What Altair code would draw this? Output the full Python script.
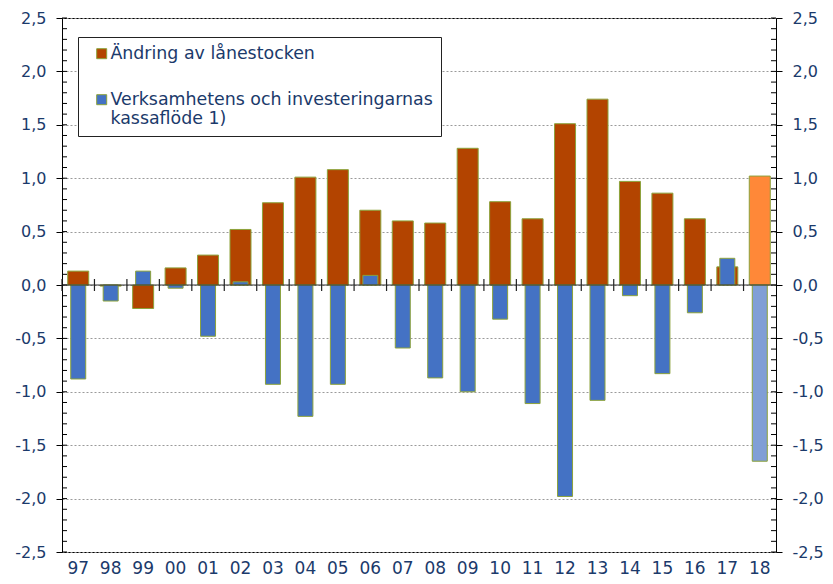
import altair as alt
import pandas as pd

years = ["97", "98", "99", "00", "01", "02", "03", "04", "05", "06", "07",
         "08", "09", "10", "11", "12", "13", "14", "15", "16", "17", "18"]
loan_change = [0.13, -0.01, -0.22, 0.16, 0.28, 0.52, 0.77, 1.01, 1.08, 0.70, 0.60,
               0.58, 1.28, 0.78, 0.62, 1.51, 1.74, 0.97, 0.86, 0.62, 0.17, 1.02]
cash_flow = [-0.88, -0.15, 0.13, -0.03, -0.48, 0.03, -0.93, -1.23, -0.93, 0.09, -0.59,
             -0.87, -1.00, -0.32, -1.11, -1.98, -1.08, -0.10, -0.83, -0.26, 0.25, -1.65]
series_names = ["Ändring av lånestocken", "Verksamhetens och investeringarnas kassaflöde 1)"]
y_major = [-2.5, -2.0, -1.5, -1.0, -0.5, 0.0, 0.5, 1.0, 1.5, 2.0, 2.5]
y_minor = [round(-2.5 + 0.1 * i, 1) for i in range(51)]

ORANGE, ORANGE_LIGHT = "#B34400", "#FF8838"
BLUE, BLUE_LIGHT = "#4472C4", "#809FD6"
OLIVE = "#8CA23B"
NAVY = "#1B3A6B"
FONT = "DejaVu Sans"
W, H = 714, 534
STEP = W / len(years)
TICK_HALF = 0.056  # half-length of the category separator ticks, in axis units

df_loan = pd.DataFrame({"year": years, "value": loan_change, "series": series_names[0]})
df_cash = pd.DataFrame({"year": years, "value": cash_flow, "series": series_names[1]})
df_minor = pd.DataFrame({"v": y_minor})
df_zero = pd.DataFrame({"v": [0.0]})
df_cat = pd.DataFrame({"year": years, "lo": -TICK_HALF, "hi": TICK_HALF})

yscale = alt.Scale(domain=[-2.5, 2.5], nice=False, zero=False)
xscale = alt.Scale(paddingInner=0, paddingOuter=0)
color_scale = alt.Scale(domain=series_names, range=[ORANGE, BLUE])
label_expr = "replace(replace(format(datum.value, '.1f'), '.', ','), '\u2212', '-')"

legend = alt.Legend(
    title=None, orient="none", legendX=16, legendY=19,
    fillColor="white", strokeColor="#222", padding=8,
    symbolType="square", symbolSize=100, symbolStrokeColor=OLIVE, symbolStrokeWidth=1,
    symbolOffset=7,
    labelFont=FONT, labelFontSize=17.4, labelColor=NAVY, labelLimit=600,
    rowPadding=27, labelBaseline="middle", labelOffset=0,
    labelExpr="indexof(datum.label, 'kassafl') > 0 ? ['Verksamhetens och investeringarnas', 'kassaflöde 1)'] : datum.label",
)

x_axis = alt.Axis(
    title=None, ticks=False, tickSize=0, tickOpacity=0, domain=False, grid=False,
    labelPadding=8, labelFont=FONT, labelFontSize=17, labelColor=NAVY, labelAngle=0,
)

left_axis = alt.Axis(
    title=None, orient="left", values=y_major, labelExpr=label_expr, grid=True,
    gridDash=[2, 2], gridColor="#9a9a9a", domainColor="black", tickColor="black",
    tickSize=6, labelPadding=10, labelFont=FONT, labelFontSize=16, labelColor=NAVY,
)
right_axis = alt.Axis(
    title=None, orient="right", values=y_major, labelExpr=label_expr, grid=False,
    domainColor="black", tickColor="black", tickSize=6, labelPadding=10,
    labelFont=FONT, labelFontSize=16, labelColor=NAVY,
)

orange_bars = alt.Chart(df_loan).mark_bar(size=21, stroke=OLIVE, strokeWidth=1).encode(
    x=alt.X("year:N", sort=years, scale=xscale, axis=x_axis),
    y=alt.Y("value:Q", scale=yscale, axis=left_axis),
    color=alt.condition("datum.year == '18'", alt.value(ORANGE_LIGHT),
                        alt.Color("series:N", scale=color_scale, legend=legend)),
)

blue_bars = alt.Chart(df_cash).mark_bar(size=15, stroke=OLIVE, strokeWidth=1).encode(
    x=alt.X("year:N", sort=years, scale=xscale, axis=x_axis),
    y=alt.Y("value:Q", scale=yscale, axis=right_axis),
    color=alt.condition("datum.year == '18'", alt.value(BLUE_LIGHT),
                        alt.Color("series:N", scale=color_scale, legend=legend)),
)

zero_line = alt.Chart(df_zero).mark_rule(color="#333", strokeWidth=1.2).encode(
    y=alt.Y("v:Q", scale=yscale, axis=None),
)

# category separator ticks crossing the zero line, at the left edge of each band
cat_ticks = alt.Chart(df_cat).mark_rule(
    color="#222", strokeWidth=1.2, xOffset=-STEP / 2
).encode(
    x=alt.X("year:N", sort=years, scale=xscale, axis=x_axis),
    y=alt.Y("lo:Q", scale=yscale, axis=None),
    y2="hi:Q",
)

left_minor = alt.Chart(df_minor).mark_rule(color="black", strokeWidth=1).encode(
    y=alt.Y("v:Q", scale=yscale, axis=None),
    x=alt.value(0), x2=alt.value(5),
)
right_minor = alt.Chart(df_minor).mark_rule(color="black", strokeWidth=1).encode(
    y=alt.Y("v:Q", scale=yscale, axis=None),
    x=alt.value(W - 5), x2=alt.value(W),
)

chart = alt.layer(
    orange_bars, blue_bars, zero_line, cat_ticks, left_minor, right_minor
).resolve_axis(y="independent").properties(
    width=W, height=H,
    padding={"left": 54, "top": 10, "right": 49, "bottom": 24},
    autosize=alt.AutoSizeParams(type="none"),
).configure_view(stroke="black", strokeWidth=1)

chart.save("out.html", embed_options={"renderer": "svg", "actions": False})
